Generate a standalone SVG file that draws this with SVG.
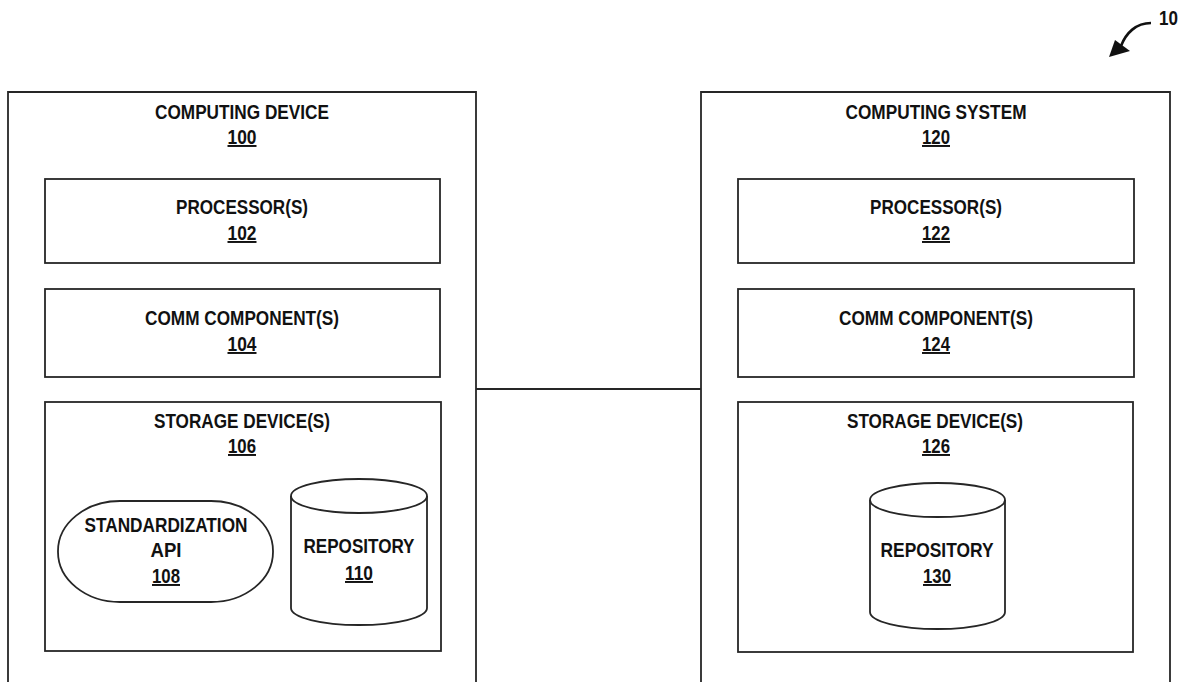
<svg xmlns="http://www.w3.org/2000/svg" width="1181" height="682" viewBox="0 0 1181 682">
<defs>
<style>
.box{fill:#fff;stroke:#262626;stroke-width:1.8}
.open{fill:none;stroke:#262626;stroke-width:1.8}
.t{font-family:"Liberation Sans",Arial,sans-serif;font-weight:bold;font-size:19.5px;fill:#111;text-anchor:middle}
.n{text-decoration:underline}
.conn{fill:none;stroke:#262626;stroke-width:1.8}
</style>
</defs>
<rect width="1181" height="682" fill="#fff"/>

<g id="connectors">
<line class="conn" x1="476" y1="389" x2="701" y2="389"/>
<path d="M1151,23 C1136,23 1126,33 1121,46" fill="none" stroke="#111" stroke-width="2.6"/>
<path d="M1109,57 L1115,40 L1130,51 Z" fill="#111"/>
</g>

<g id="ref-10">
<text class="t" x="1159" y="25" style="text-anchor:start" textLength="19" lengthAdjust="spacingAndGlyphs">10</text>
</g>

<g id="computing-device-100">
<path class="open" d="M8,690 V92 H476 V690"/>
<text class="t" x="242" y="119" textLength="174" lengthAdjust="spacingAndGlyphs">COMPUTING DEVICE</text>
<text class="t n" x="242" y="144" textLength="29" lengthAdjust="spacingAndGlyphs">100</text>
</g>

<g id="processors-102">
<rect class="box" x="45" y="179" width="395" height="84"/>
<text class="t" x="242" y="214" textLength="132" lengthAdjust="spacingAndGlyphs">PROCESSOR(S)</text>
<text class="t n" x="242" y="240" textLength="29" lengthAdjust="spacingAndGlyphs">102</text>
</g>

<g id="comm-104">
<rect class="box" x="45" y="289" width="395" height="88"/>
<text class="t" x="242" y="325" textLength="194" lengthAdjust="spacingAndGlyphs">COMM COMPONENT(S)</text>
<text class="t n" x="242" y="351" textLength="29" lengthAdjust="spacingAndGlyphs">104</text>
</g>

<g id="storage-106">
<rect class="box" x="45" y="402" width="396" height="249"/>
<text class="t" x="242" y="428" textLength="176" lengthAdjust="spacingAndGlyphs">STORAGE DEVICE(S)</text>
<text class="t n" x="242" y="453" textLength="28" lengthAdjust="spacingAndGlyphs">106</text>
</g>

<g id="api-108">
<rect class="box" x="58" y="501" width="215" height="101" rx="62" ry="50"/>
<text class="t" x="166" y="532" textLength="163" lengthAdjust="spacingAndGlyphs">STANDARDIZATION</text>
<text class="t" x="166" y="557" textLength="31" lengthAdjust="spacingAndGlyphs">API</text>
<text class="t n" x="166" y="583" textLength="28" lengthAdjust="spacingAndGlyphs">108</text>
</g>

<g id="repository-110">
<path class="box" d="M291,496 V608 A68,17 0 0 0 427,608 V496 A68,17 0 0 0 291,496 Z"/>
<path class="open" d="M291,496 A68,17 0 0 0 427,496"/>
<text class="t" x="359" y="553" textLength="111" lengthAdjust="spacingAndGlyphs">REPOSITORY</text>
<text class="t n" x="359" y="580" textLength="28" lengthAdjust="spacingAndGlyphs">110</text>
</g>

<g id="computing-system-120">
<path class="open" d="M701,690 V92 H1170 V690"/>
<text class="t" x="936" y="119" textLength="181" lengthAdjust="spacingAndGlyphs">COMPUTING SYSTEM</text>
<text class="t n" x="936" y="144" textLength="28" lengthAdjust="spacingAndGlyphs">120</text>
</g>

<g id="processors-122">
<rect class="box" x="738" y="179" width="396" height="84"/>
<text class="t" x="936" y="214" textLength="132" lengthAdjust="spacingAndGlyphs">PROCESSOR(S)</text>
<text class="t n" x="936" y="240" textLength="28" lengthAdjust="spacingAndGlyphs">122</text>
</g>

<g id="comm-124">
<rect class="box" x="738" y="289" width="396" height="88"/>
<text class="t" x="936" y="325" textLength="194" lengthAdjust="spacingAndGlyphs">COMM COMPONENT(S)</text>
<text class="t n" x="936" y="351" textLength="28" lengthAdjust="spacingAndGlyphs">124</text>
</g>

<g id="storage-126">
<rect class="box" x="738" y="402" width="395" height="250"/>
<text class="t" x="935" y="428" textLength="176" lengthAdjust="spacingAndGlyphs">STORAGE DEVICE(S)</text>
<text class="t n" x="936" y="453" textLength="28" lengthAdjust="spacingAndGlyphs">126</text>
</g>

<g id="repository-130">
<path class="box" d="M870,500 V612 A67.5,17 0 0 0 1005,612 V500 A67.5,17 0 0 0 870,500 Z"/>
<path class="open" d="M870,500 A67.5,17 0 0 0 1005,500"/>
<text class="t" x="937" y="557" textLength="113" lengthAdjust="spacingAndGlyphs">REPOSITORY</text>
<text class="t n" x="937" y="583" textLength="28" lengthAdjust="spacingAndGlyphs">130</text>
</g>
</svg>
